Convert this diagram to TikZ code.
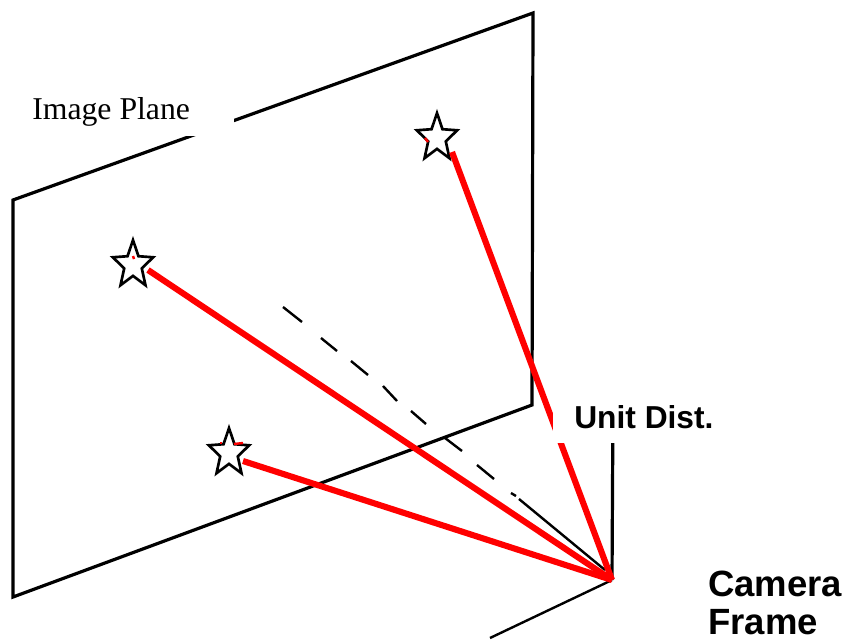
\documentclass[tikz,border=0pt]{standalone}
\usepackage{fontspec}
\setmainfont{Liberation Serif}
\setsansfont{Liberation Sans}
\usepackage{tikz}
\usetikzlibrary{shapes.geometric}

\begin{document}
\begin{tikzpicture}[
  x=0.75pt, y=-0.75pt,
  edge/.style={draw=black, line width=2.4pt, line join=miter},
  dashpart/.style={draw=black, line width=1.8pt},
  ray/.style={draw=red, line width=4.6pt},
  speck/.style={draw=red, line width=1.8pt},
  sight/.style={star, star points=5, star point ratio=2.3, draw=black, line width=2pt,
                inner sep=0pt, minimum size=37.5pt, transform shape, xscale=0.85},
  mask/.style={fill=white, inner sep=0pt},
  lab/.style={font=\sffamily\bfseries, anchor=base west, inner sep=0pt},
]
\useasboundingbox (0,0) rectangle (848,642);

% image plane and camera axes
\coordinate (pa) at (13,200);
\coordinate (pb) at (533,13);
\coordinate (pc) at (532,405);
\coordinate (pd) at (13,597);
\coordinate (cam) at (612,580);
\coordinate (axup) at (613,400);
\coordinate (axout) at (490,638);
\draw[edge] (pd)--(pa)--(pb)--(pc)--cycle;
\draw[edge] (cam)--(axup);
\draw[dashpart] (cam)--(axout);

% dashed optical axis
\foreach \xa/\ya/\xb/\yb in {283/307/302/322, 321/338/337/351, 351/361/368/375,
    383/386/397/401, 411/411/426/424, 445/438/462/451, 477/465/494/479,
    511/493/516/496, 519/499/605/570}
  { \draw[dashpart] (\xa,\ya)--(\xb,\yb); }

\node[sight] (s1) at (437,138) {};
\node[sight] (s2) at (133,265) {};
\node[sight] (s3) at (229,453) {};

\coordinate (r1) at (452,152);
\coordinate (r2) at (148,270);
\coordinate (r3) at (243,461);
\foreach \n in {r1,r2,r3} \draw[ray] (cam)--(\n);

% red left over on the stars
\draw[speck] (425,138)--(428,142);
\draw[speck] (133,256)--(134,259);
\draw[speck] (220,443)--(222,443);
\draw[speck] (234,444)--(243,443);

% labels sit on white patches
\node[mask, minimum width=168pt, minimum height=42pt] (planemask) at (122,108) {};
\node[mask, minimum width=125pt, minimum height=36pt] (unitmask) at (636.5,419) {};
\node[font=\fontsize{23.8pt}{26pt}\selectfont, anchor=base west, inner sep=0pt] (plane) at (32,119) {Image Plane};
\node[lab, font=\sffamily\bfseries\fontsize{23.8pt}{26pt}\selectfont] (unit) at (574,428) {Unit Dist.};
\node[lab, font=\sffamily\bfseries\fontsize{27.4pt}{30pt}\selectfont] (camera) at (708,596) {Camera};
\node[lab, font=\sffamily\bfseries\fontsize{27.4pt}{30pt}\selectfont] (frame) at (708,634) {Frame};
\end{tikzpicture}
\end{document}
